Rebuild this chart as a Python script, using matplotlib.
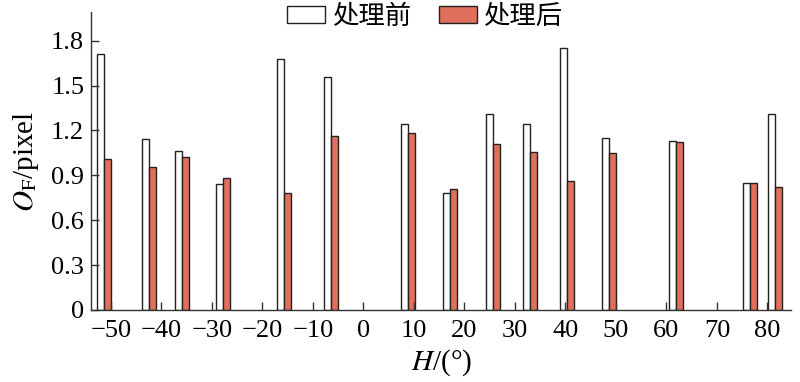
import numpy as np
import matplotlib.pyplot as plt

# 数据
angles = [-51.4, -42.5, -35.9, -27.8, -15.8, -6.5, 8.9, 17.2, 25.7, 32.9, 40.4, 48.7, 61.9, 76.5, 81.4]
before = [1.71, 1.14, 1.06, 0.84, 1.68, 1.56, 1.24, 0.78, 1.31, 1.24, 1.75, 1.15, 1.13, 0.85, 1.31]
after = [1.01, 0.955, 1.02, 0.88, 0.78, 1.16, 1.18, 0.81, 1.11, 1.055, 0.86, 1.05, 1.12, 0.85, 0.82]
xticks = list(range(-50, 81, 10))
yticks = [0, 0.3, 0.6, 0.9, 1.2, 1.5, 1.8]
labels = ['处理前', '处理后']


def main():
    plt.rcParams['font.family'] = ['Liberation Serif', 'Noto Sans CJK SC']
    plt.rcParams['mathtext.fontset'] = 'stix'

    fig = plt.figure(figsize=(8, 3.82), dpi=100)
    ax = fig.add_axes([0.114, 0.1885, 0.875, 0.7795])

    w = 1.39
    ax.bar(angles, before, width=-w, align='edge', color='white',
           edgecolor='#222222', linewidth=1.0, label=labels[0])
    ax.bar(angles, after, width=w, align='edge', color='#E0705C',
           edgecolor='#222222', linewidth=1.0, label=labels[1])

    ax.set_xlim(-53.9, 84.7)
    ax.set_ylim(0, 1.99)
    ax.set_xticks(xticks)
    ax.set_xticklabels([str(t).replace('-', '\u2212') for t in xticks])
    ax.set_yticks(yticks)
    ax.set_yticklabels(['0' if t == 0 else f'{t:.1f}' for t in yticks])

    for s in ['top', 'right']:
        ax.spines[s].set_visible(False)
    for s in ['left', 'bottom']:
        ax.spines[s].set_color('#333333')
        ax.spines[s].set_linewidth(1.0)
    ax.tick_params(direction='in', length=6, width=1.0, color='#333333',
                   labelsize=19)
    ax.tick_params(axis='x', pad=7)
    ax.tick_params(axis='y', pad=5)

    ax.set_xlabel(r'$H$/(°)', fontsize=21, labelpad=4)
    ax.set_ylabel(r'$O_{\mathrm{F}}$/pixel', fontsize=21, labelpad=7)

    fig.legend(loc='upper center', bbox_to_anchor=(0.531, 1.0), ncol=2,
               frameon=False, prop={'family': 'Noto Sans CJK SC', 'size': 19},
               handlelength=1.44, handleheight=0.6, handletextpad=0.25,
               columnspacing=1.05, borderpad=0.1, borderaxespad=0)

    fig.savefig('out.png', dpi=100)


if __name__ == "__main__":
    main()
